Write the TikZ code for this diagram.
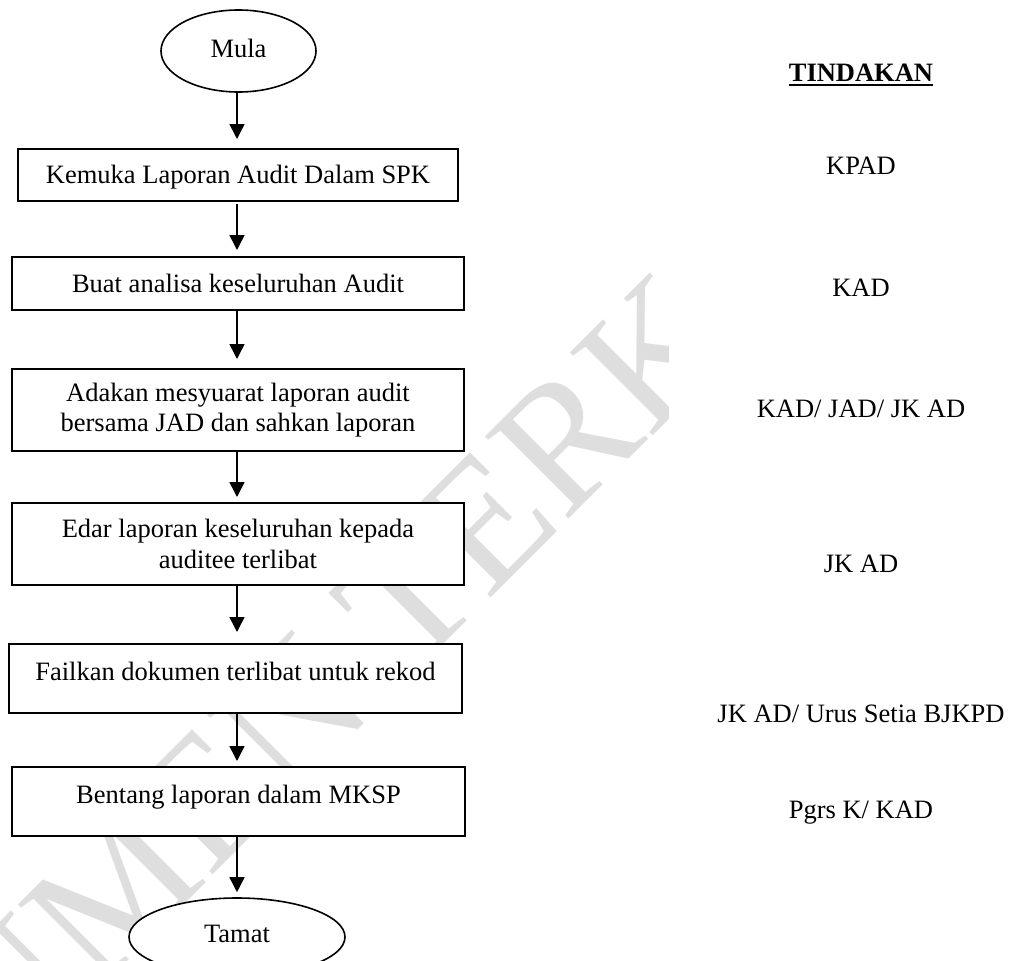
\documentclass[tikz,border=0pt]{standalone}
\usepackage{fontspec}
\setmainfont{Liberation Serif}
\usetikzlibrary{arrows.meta,shapes.geometric,calc}
\newsavebox\ulsavebox
\newcommand\ulbar[1]{\sbox\ulsavebox{#1}\rlap{\usebox\ulsavebox}\rule[-4.3pt]{\wd\ulsavebox}{2pt}}
\begin{document}
\begin{tikzpicture}[x=1pt,y=-1pt,
  every node/.style={font=\fontsize{26.5}{30.5}\selectfont},
  box/.style={draw, line width=2pt, fill=white, rectangle, inner sep=0pt, align=center},
  oneline/.style={text height=17.5pt, text depth=#1},
  term/.style={draw, line width=1.6pt, fill=white, ellipse, inner sep=0pt, text height=17.5pt, text depth=#1},
  arr/.style={line width=1.6pt, -{Triangle[width=15pt,length=15pt]}},
  act/.style={anchor=base, inner sep=0pt},
  wmark/.style={rotate=45, text=black!13, inner sep=0pt, text height=118pt, text depth=0pt,
    font=\fontsize{179}{179}\selectfont}
]
\useasboundingbox (0,0) rectangle (1021,961);
% watermark
\begin{scope}
  \clip (0,0) rectangle (668,961);
  \node[wmark] (wm) at (372,633) {DOKUMEN TERKAWAL};
\end{scope}
\coordinate (ax) at (237,0);
% flow
\node[term=5.4pt, minimum width=155pt, minimum height=82pt] (m) at (238.5,51) {Mula};
\node[box, oneline=0pt, minimum width=440pt, minimum height=52pt] (b1) at (238,175) {Kemuka Laporan Audit Dalam SPK};
\node[box, oneline=0pt, minimum width=452pt, minimum height=53pt] (b2) at (238,283.5) {Buat analisa keseluruhan Audit};
\node[box, minimum width=452pt, minimum height=82pt] (b3) at (238,410) {Adakan mesyuarat laporan audit\\bersama JAD dan sahkan laporan};
\node[box, minimum width=452pt, minimum height=82pt] (b4) at (238,544) {Edar laporan keseluruhan kepada\\auditee terlibat};
\node[box, oneline=14pt, minimum width=453pt, minimum height=69pt] (b5) at (235.5,678.5) {Failkan dokumen terlibat untuk rekod};
\node[box, oneline=13pt, minimum width=453pt, minimum height=69pt] (b6) at (238.5,801.5) {Bentang laporan dalam MKSP};
\node[term=7.4pt, minimum width=216pt, minimum height=78pt] (t) at (237,937) {Tamat};
% connectors
\draw[arr, shorten >=9pt] (m.south -| ax) -- (b1.north -| ax);
\draw[arr, shorten <=2pt, shorten >=6pt] (b1.south -| ax) -- (b2.north -| ax);
\draw[arr, shorten >=9pt] (b2.south -| ax) -- (b3.north -| ax);
\draw[arr, shorten >=5pt] (b3.south -| ax) -- (b4.north -| ax);
\draw[arr, shorten >=11pt] (b4.south -| ax) -- (b5.north -| ax);
\draw[arr, shorten >=5pt] (b5.south -| ax) -- (b6.north -| ax);
\draw[arr, shorten >=5pt] (b6.south -| ax) -- (t.north -| ax);
% actions column
\node[act] (hd) at (861,81.7) {\ulbar{\bfseries TINDAKAN}};
\node[act] (r1) at (861,174.3) {KPAD};
\node[act] (r2) at (861,296) {KAD};
\node[act] (r3) at (861,417.7) {KAD/ JAD/ JK AD};
\node[act] (r4) at (861,572.7) {JK AD};
\node[act] (r5) at (861,722.7) {JK AD/ Urus Setia BJKPD};
\node[act] (r6) at (861,818.3) {Pgrs K/ KAD};
\end{tikzpicture}
\end{document}
